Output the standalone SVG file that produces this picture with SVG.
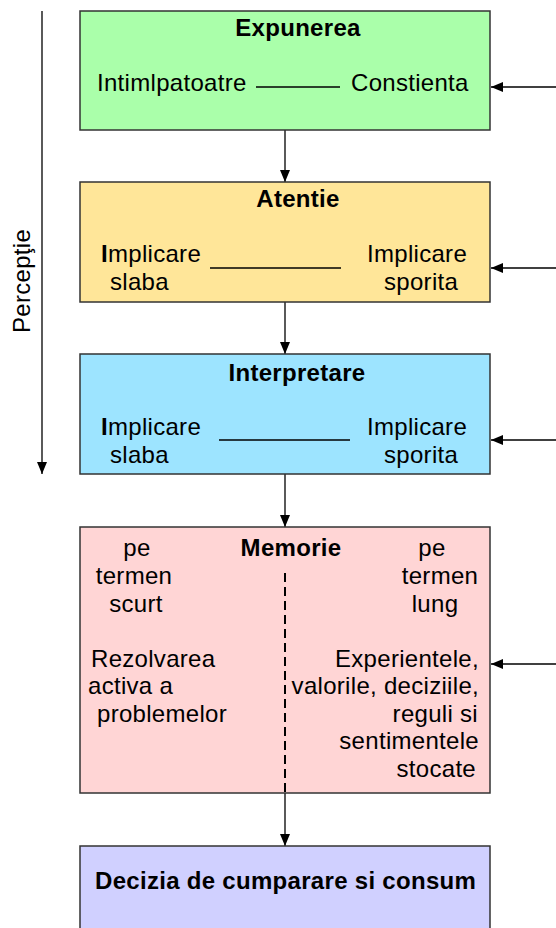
<svg xmlns="http://www.w3.org/2000/svg" width="556" height="928" viewBox="0 0 556 928">
<style>
text{font-family:"Liberation Sans",Arial,sans-serif;font-size:24px;fill:#000;letter-spacing:0.3px}
.b{font-weight:bold}
.m{text-anchor:middle}
.e{text-anchor:end}
.box{stroke:#333;stroke-width:1.5}
.ln{stroke:#000;stroke-width:1.3;fill:none}
</style>
<defs>
<marker id="ah" viewBox="0 0 12 10" refX="12" refY="5" markerWidth="12" markerHeight="10" markerUnits="userSpaceOnUse" orient="auto">
<path d="M0,0 L12,5 L0,10 z" fill="#000"/>
</marker>
</defs>
<g id="connectors">
<line class="ln" x1="42" y1="11" x2="42" y2="474" marker-end="url(#ah)"/>
<line class="ln" x1="285" y1="130" x2="285" y2="182" marker-end="url(#ah)"/>
<line class="ln" x1="285" y1="302" x2="285" y2="354" marker-end="url(#ah)"/>
<line class="ln" x1="285" y1="474" x2="285" y2="527" marker-end="url(#ah)"/>
<line class="ln" x1="285" y1="793" x2="285" y2="846" marker-end="url(#ah)"/>
<line class="ln" x1="556" y1="87" x2="491" y2="87" marker-end="url(#ah)"/>
<line class="ln" x1="556" y1="268" x2="491" y2="268" marker-end="url(#ah)"/>
<line class="ln" x1="556" y1="440" x2="491" y2="440" marker-end="url(#ah)"/>
<line class="ln" x1="556" y1="664" x2="491" y2="664" marker-end="url(#ah)"/>
</g>
<g id="perceptie">
<text class="m" transform="translate(30,281) rotate(-90)">Percepţie</text>
</g>
<g id="expunerea">
<rect class="box" x="80" y="11" width="410" height="119" fill="#AAFFAA"/>
<text class="b m" x="298" y="36">Expunerea</text>
<text x="97" y="91">Intimlpatoatre</text>
<line class="ln" x1="256" y1="87" x2="340" y2="87"/>
<text x="351" y="91">Constienta</text>
</g>
<g id="atentie">
<rect class="box" x="80" y="182" width="410" height="120" fill="#FFE699"/>
<text class="b m" x="298" y="207">Atentie</text>
<text x="101" y="262"><tspan class="b">I</tspan>mplicare</text>
<text x="110" y="290">slaba</text>
<line class="ln" x1="210" y1="268" x2="341" y2="268"/>
<text x="367" y="262">Implicare</text>
<text x="384" y="290">sporita</text>
</g>
<g id="interpretare">
<rect class="box" x="80" y="354" width="410" height="120" fill="#9DE4FF"/>
<text class="b m" x="297" y="381">Interpretare</text>
<text x="101" y="435"><tspan class="b">I</tspan>mplicare</text>
<text x="110" y="463">slaba</text>
<line class="ln" x1="219" y1="440" x2="350" y2="440"/>
<text x="367" y="435">Implicare</text>
<text x="384" y="463">sporita</text>
</g>
<g id="memorie">
<rect class="box" x="80" y="527" width="410" height="266" fill="#FFD5D5"/>
<line x1="285" y1="573" x2="285" y2="793" stroke="#000" stroke-width="2" stroke-dasharray="9,5"/>
<text class="b m" x="291" y="556">Memorie</text>
<text class="m" x="137" y="556">pe</text>
<text class="m" x="134" y="584">termen</text>
<text class="m" x="136" y="612">scurt</text>
<text class="m" x="432" y="556">pe</text>
<text class="m" x="440" y="584">termen</text>
<text class="m" x="435" y="612">lung</text>
<text x="91" y="667">Rezolvarea</text>
<text x="88" y="694">activa a</text>
<text x="97" y="722">problemelor</text>
<text class="e" x="479" y="667">Experientele,</text>
<text class="e" x="479" y="694">valorile, deciziile,</text>
<text class="e" x="478" y="722">reguli  si</text>
<text class="e" x="479" y="749">sentimentele</text>
<text class="e" x="476" y="777">stocate</text>
</g>
<g id="decizia">
<rect class="box" x="80" y="846" width="410" height="90" fill="#D0D0FF"/>
<text class="b" x="95" y="889" letter-spacing="0.5">Decizia de cumparare si consum</text>
</g>
</svg>
